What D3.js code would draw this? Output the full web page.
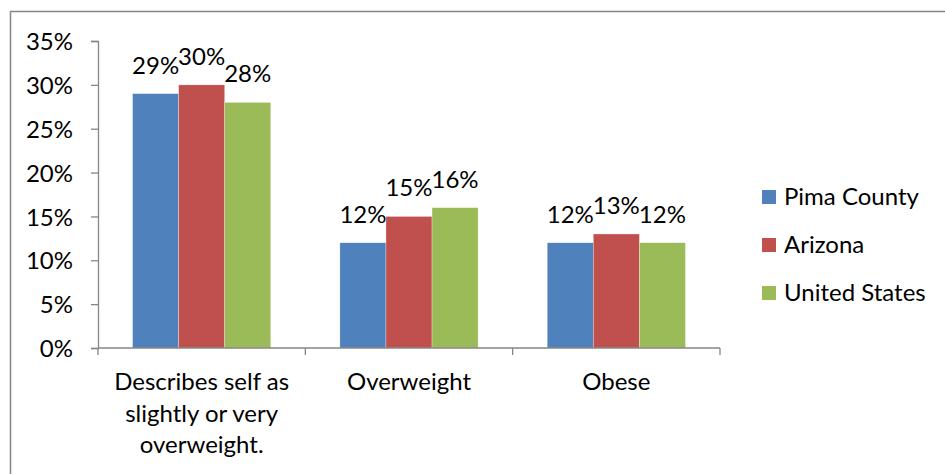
<!DOCTYPE html>
<html>
<head>
<meta charset="utf-8">
<script src="https://cdn.jsdelivr.net/npm/d3@7"></script>
<style>
  html, body { margin: 0; padding: 0; background: #fff; }
  svg text { font-family: Lato, "Open Sans", sans-serif; fill: #000; }
</style>
</head>
<body>
<svg id="chart" width="945" height="474"></svg>
<script>
// Self-reported and measured weight status, by area
const categories = [
  ["Describes self as", "slightly or very", "overweight."],
  ["Overweight"],
  ["Obese"]
];
const seriesNames = ["Pima County", "Arizona", "United States"];
const seriesColors = ["#4F81BD", "#C0504D", "#9BBB59"];
const pimaCounty   = [29, 12, 12];
const arizona      = [30, 15, 13];
const unitedStates = [28, 16, 12];
const yTicks = [0, 5, 10, 15, 20, 25, 30, 35];

const seriesValues = [pimaCounty, arizona, unitedStates];
const catKeys = categories.map((c, i) => i);

const svg = d3.select("#chart");
const fontSize = 24;

// outer chart border
svg.append("rect")
  .attr("x", 10.5).attr("y", 11.5)
  .attr("width", 1000).attr("height", 1000)
  .attr("fill", "none")
  .attr("stroke", "#868686")
  .attr("stroke-width", 1.5);

const plot = { left: 98, right: 720, top: 41, bottom: 348 };

const y = d3.scaleLinear().domain([0, 35]).range([plot.bottom, plot.top]);
const x0 = d3.scaleBand().domain(catKeys).range([plot.left, plot.right])
  .paddingInner(1 / 3).paddingOuter(1 / 6);
const x1 = d3.scaleBand().domain(d3.range(seriesNames.length))
  .range([0, x0.bandwidth()]);

// bars
const groups = svg.append("g").selectAll("g")
  .data(catKeys).join("g")
  .attr("transform", d => `translate(${x0(d)},0)`);

groups.selectAll("rect")
  .data(ci => seriesValues.map((vals, si) => ({ si, v: vals[ci] })))
  .join("rect")
  .attr("x", d => x1(d.si))
  .attr("y", d => y(d.v))
  .attr("width", x1.bandwidth())
  .attr("height", d => y(0) - y(d.v))
  .attr("fill", d => seriesColors[d.si])
  .attr("stroke", "#fff")
  .attr("stroke-opacity", 0.5)
  .attr("stroke-width", 0.6);

// value labels
groups.selectAll("text.val")
  .data(ci => seriesValues.map((vals, si) => ({ si, v: vals[ci] })))
  .join("text")
  .attr("class", "val")
  .attr("x", d => x1(d.si) + x1.bandwidth() / 2)
  .attr("y", d => y(d.v) - 20)
  .attr("text-anchor", "middle")
  .attr("font-size", fontSize)
  .text(d => d.v + "%");

// y axis
const yAxis = d3.axisLeft(y).tickValues(yTicks).tickSize(7).tickPadding(18)
  .tickFormat(d => d + "%");
const ya = svg.append("g").attr("transform", `translate(${plot.left},0)`).call(yAxis);
ya.select(".domain").attr("stroke", "#868686").attr("stroke-width", 1.3);
ya.selectAll(".tick line").attr("stroke", "#868686").attr("stroke-width", 1.3);
ya.selectAll(".tick text")
  .attr("font-size", fontSize)
  .attr("font-family", "Lato, sans-serif")
  .attr("fill", "#000")
  .attr("dy", "0.36em");

// x axis line and category boundary ticks
const xa = svg.append("g");
xa.append("line")
  .attr("x1", plot.left).attr("x2", plot.right)
  .attr("y1", y(0)).attr("y2", y(0))
  .attr("stroke", "#868686").attr("stroke-width", 1.3);
const boundaries = catKeys.map(k => x0(k) - x0.step() * x0.paddingOuter())
  .concat([plot.right]);
xa.selectAll("line.tk").data(boundaries).join("line")
  .attr("class", "tk")
  .attr("x1", d => d).attr("x2", d => d)
  .attr("y1", y(0)).attr("y2", y(0) + 7)
  .attr("stroke", "#868686").attr("stroke-width", 1.3);

// category labels
const catText = xa.selectAll("text.cat").data(catKeys).join("text")
  .attr("class", "cat")
  .attr("text-anchor", "middle")
  .attr("font-size", fontSize)
  .attr("y", 390);
catText.selectAll("tspan")
  .data(k => categories[k].map(line => ({ k, line })))
  .join("tspan")
  .attr("x", d => x0(d.k) + x0.bandwidth() / 2)
  .attr("dy", (d, i) => i === 0 ? 0 : 31.7)
  .text(d => d.line);

// legend
const legend = svg.append("g").attr("transform", "translate(762,190)");
const items = legend.selectAll("g").data(seriesNames).join("g")
  .attr("transform", (d, i) => `translate(0,${i * 48})`);
items.append("rect")
  .attr("width", 14).attr("height", 14)
  .attr("fill", (d, i) => seriesColors[i]);
items.append("text")
  .attr("x", 22).attr("y", 15)
  .attr("font-size", fontSize)
  .text(d => d);
</script>
</body>
</html>
